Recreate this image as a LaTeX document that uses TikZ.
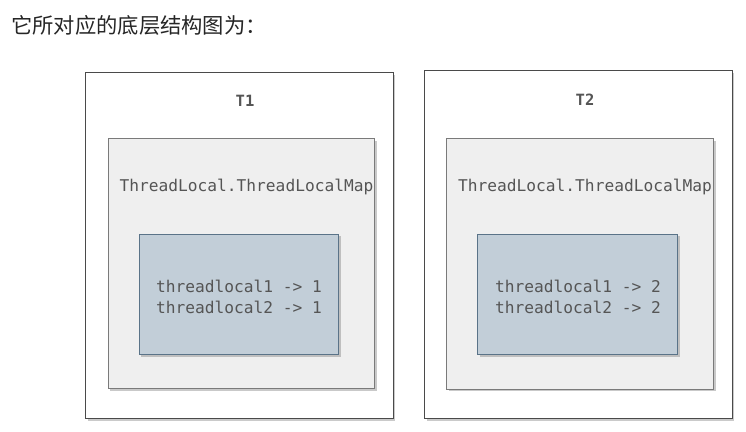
\documentclass[tikz,border=0pt]{standalone}
\usepackage{fontspec}
\setmonofont{DejaVu Sans Mono}
\newfontfamily\cjk{Noto Sans CJK SC}
\usetikzlibrary{shadows}
\definecolor{txt}{HTML}{555555}
\definecolor{outerdraw}{HTML}{4A4A4A}
\definecolor{innerfill}{HTML}{EFEFEF}
\definecolor{innerdraw}{HTML}{7A7A7A}
\definecolor{bluefill}{HTML}{C2CED8}
\definecolor{bluedraw}{HTML}{5A7388}
\tikzset{
  shad/.style={drop shadow={shadow xshift=2pt,shadow yshift=-2pt,opacity=0.35,fill=black!60}},
  outerbox/.style={draw=outerdraw,fill=white,line width=1pt,shad},
  innerbox/.style={draw=innerdraw,fill=innerfill,line width=1pt,shad},
  bluebox/.style={draw=bluedraw,fill=bluefill,line width=1pt,shad},
  lbl/.style={text=txt,font=\ttfamily\fontsize{16.2}{20.6}\selectfont,inner sep=0pt},
  blbl/.style={text=txt,font=\ttfamily\bfseries\fontsize{15.5}{18}\selectfont,inner sep=0pt},
}
\begin{document}
\begin{tikzpicture}[x=1pt,y=-1pt]
\useasboundingbox (0,0) rectangle (746,431);
\node[anchor=west,inner sep=0pt,font=\cjk\fontsize{21.3}{24}\selectfont,text=black!85] (title) at (11,25) {它所对应的底层结构图为：};
% T1
\draw[outerbox] (85.5,72.5) rectangle (393,418.5);
\draw[innerbox] (108,138.5) rectangle (374.5,388.5);
\draw[bluebox] (139,234) rectangle (338.5,354.5);
\node[blbl] (t1) at (245,101) {T1};
\node[lbl] (m1) at (246.5,187) {ThreadLocal.ThreadLocalMap};
\node[lbl,align=left] (v1) at (239,297) {threadlocal1 -> 1\\threadlocal2 -> 1};
% T2
\draw[outerbox] (424.5,70.5) rectangle (732,418.5);
\draw[innerbox] (446.5,138.5) rectangle (713.5,389);
\draw[bluebox] (477.5,234) rectangle (677.5,354.5);
\node[blbl] (t2) at (585,100) {T2};
\node[lbl] (m2) at (585,187) {ThreadLocal.ThreadLocalMap};
\node[lbl,align=left] (v2) at (578,297) {threadlocal1 -> 2\\threadlocal2 -> 2};
\end{tikzpicture}
\end{document}
